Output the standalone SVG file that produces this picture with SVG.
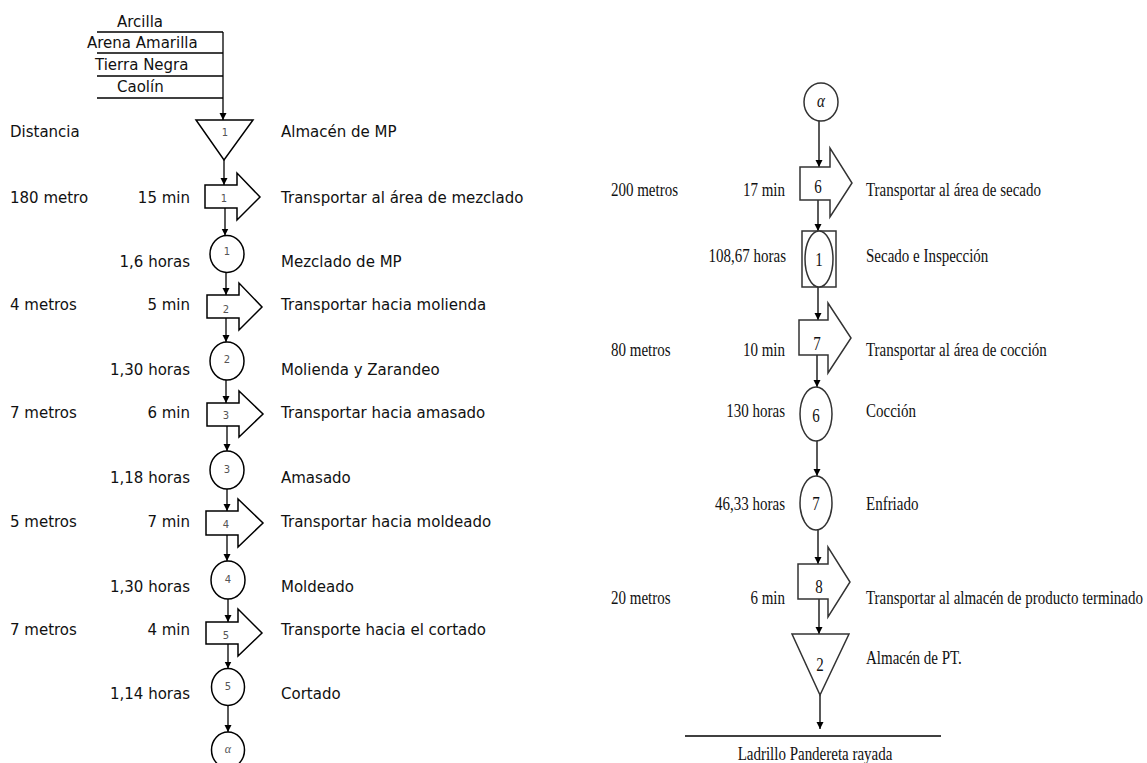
<svg xmlns="http://www.w3.org/2000/svg" width="1147" height="763" viewBox="0 0 1147 763">
<style>
.l{font-family:"DejaVu Sans","Liberation Sans",sans-serif;font-size:15px;fill:#111}
.le{font-family:"DejaVu Sans","Liberation Sans",sans-serif;font-size:15px;fill:#111;text-anchor:end}
.n{font-family:"DejaVu Sans",sans-serif;font-size:10px;fill:#555;text-anchor:middle}
.r{font-family:"Liberation Serif","Times New Roman",serif;font-size:15px;fill:#111}
.re{font-family:"Liberation Serif","Times New Roman",serif;font-size:15px;fill:#111;text-anchor:end}
.rm{font-family:"Liberation Serif","Times New Roman",serif;font-size:15px;fill:#111;text-anchor:middle}
.ga{font-family:"Liberation Serif",serif;font-style:italic;font-size:12px;fill:#555;text-anchor:middle}
.s{fill:#fff;stroke:#000;stroke-width:1.5}
.rs{fill:#fff;stroke:#333;stroke-width:1.5}
.c{stroke:#000;stroke-width:1.3;fill:none}
</style>
<defs>
<marker id="ah" markerWidth="8" markerHeight="8" refX="7" refY="4" orient="auto" markerUnits="userSpaceOnUse"><path d="M0,0.5 L7,4 L0,7.5 z" fill="#000"/></marker>
</defs>

<g id="connectors">
<line class="c" x1="97" y1="32" x2="223" y2="32"/>
<line class="c" x1="97" y1="53" x2="223" y2="53"/>
<line class="c" x1="97" y1="76" x2="223" y2="76"/>
<line class="c" x1="97" y1="98" x2="223" y2="98"/>
<line class="c" x1="223" y1="32" x2="223" y2="120" marker-end="url(#ah)"/>
<line class="c" x1="224" y1="160" x2="224" y2="185" marker-end="url(#ah)"/>
<line class="c" x1="225" y1="208" x2="225" y2="235.5" marker-end="url(#ah)"/>
<line class="c" x1="226" y1="272.5" x2="226" y2="295" marker-end="url(#ah)"/>
<line class="c" x1="226" y1="318" x2="226" y2="342" marker-end="url(#ah)"/>
<line class="c" x1="226" y1="380" x2="226" y2="403" marker-end="url(#ah)"/>
<line class="c" x1="227" y1="426" x2="227" y2="451" marker-end="url(#ah)"/>
<line class="c" x1="227" y1="489" x2="227" y2="511" marker-end="url(#ah)"/>
<line class="c" x1="227" y1="535" x2="227" y2="561" marker-end="url(#ah)"/>
<line class="c" x1="228" y1="599" x2="228" y2="622" marker-end="url(#ah)"/>
<line class="c" x1="228" y1="644" x2="228" y2="668.5" marker-end="url(#ah)"/>
<line class="c" x1="228" y1="705.5" x2="228" y2="732" marker-end="url(#ah)"/>

<line class="c" x1="819" y1="121" x2="819" y2="167" marker-end="url(#ah)"/>
<line class="c" x1="818" y1="200" x2="818" y2="231" marker-end="url(#ah)"/>
<line class="c" x1="818" y1="287" x2="818" y2="320" marker-end="url(#ah)"/>
<line class="c" x1="817" y1="355" x2="817" y2="387" marker-end="url(#ah)"/>
<line class="c" x1="817" y1="441" x2="817" y2="476" marker-end="url(#ah)"/>
<line class="c" x1="818" y1="530" x2="818" y2="564" marker-end="url(#ah)"/>
<line class="c" x1="819" y1="599" x2="819" y2="634" marker-end="url(#ah)"/>
<line class="c" x1="820" y1="695" x2="820" y2="729" marker-end="url(#ah)"/>
<line class="c" x1="685" y1="736" x2="941" y2="736"/>
</g>

<g id="inputs">
<text class="l" x="117" y="27">Arcilla</text>
<text class="l" x="87" y="48">Arena Amarilla</text>
<text class="l" x="95" y="70">Tierra Negra</text>
<text class="l" x="117" y="92">Caolín</text>
<text class="l" x="10" y="137">Distancia</text>
</g>

<g id="almacen1">
<polygon class="s" points="196,120 253,120 224,160"/>
<text class="n" x="225" y="136">1</text>
<text class="l" x="281" y="137">Almacén de MP</text>
</g>

<g id="transporte1">
<path class="s" d="M205,185 H237 V173 L260,197 L237,220 V208 H205 Z"/>
<text class="n" x="224" y="202">1</text>
<text class="l" x="10" y="203">180 metro</text>
<text class="le" x="190" y="203">15 min</text>
<text class="l" x="281" y="203">Transportar al área de mezclado</text>
</g>

<g id="operacion1">
<ellipse class="s" cx="227" cy="254" rx="17" ry="18.5"/>
<text class="n" x="227" y="255">1</text>
<text class="le" x="190" y="267">1,6 horas</text>
<text class="l" x="281" y="267">Mezclado de MP</text>
</g>

<g id="transporte2">
<path class="s" d="M207,295 H239 V283 L262,307 L239,330 V318 H207 Z"/>
<text class="n" x="226" y="313">2</text>
<text class="l" x="10" y="310">4 metros</text>
<text class="le" x="190" y="310">5 min</text>
<text class="l" x="281" y="310">Transportar hacia molienda</text>
</g>

<g id="operacion2">
<ellipse class="s" cx="227" cy="361" rx="17" ry="19"/>
<text class="n" x="227" y="363">2</text>
<text class="le" x="190" y="375">1,30 horas</text>
<text class="l" x="281" y="375">Molienda y Zarandeo</text>
</g>

<g id="transporte3">
<path class="s" d="M207,403 H239 V391 L263,414 L239,437 V426 H207 Z"/>
<text class="n" x="226" y="419">3</text>
<text class="l" x="10" y="418">7 metros</text>
<text class="le" x="190" y="418">6 min</text>
<text class="l" x="281" y="418">Transportar hacia amasado</text>
</g>

<g id="operacion3">
<ellipse class="s" cx="227" cy="470" rx="17" ry="19"/>
<text class="n" x="227" y="473">3</text>
<text class="le" x="190" y="483">1,18 horas</text>
<text class="l" x="281" y="483">Amasado</text>
</g>

<g id="transporte4">
<path class="s" d="M206,511 H238 V499 L263,523 L238,547 V535 H206 Z"/>
<text class="n" x="226" y="528">4</text>
<text class="l" x="10" y="527">5 metros</text>
<text class="le" x="190" y="527">7 min</text>
<text class="l" x="281" y="527">Transportar hacia moldeado</text>
</g>

<g id="operacion4">
<ellipse class="s" cx="228" cy="580" rx="17" ry="19"/>
<text class="n" x="228" y="583">4</text>
<text class="le" x="190" y="592">1,30 horas</text>
<text class="l" x="281" y="592">Moldeado</text>
</g>

<g id="transporte5">
<path class="s" d="M206,622 H238 V609 L262,633 L238,656 V644 H206 Z"/>
<text class="n" x="226" y="639">5</text>
<text class="l" x="10" y="635">7 metros</text>
<text class="le" x="190" y="635">4 min</text>
<text class="l" x="281" y="635">Transporte hacia el cortado</text>
</g>

<g id="operacion5">
<ellipse class="s" cx="228" cy="687" rx="16.5" ry="18.5"/>
<text class="n" x="228" y="690">5</text>
<text class="le" x="190" y="699">1,14 horas</text>
<text class="l" x="281" y="699">Cortado</text>
</g>

<g id="conector-alfa-1">
<ellipse class="s" cx="228" cy="750" rx="16.5" ry="18"/>
<text class="ga" x="228" y="753">α</text>
</g>

<g id="conector-alfa-2">
<ellipse class="rs" cx="821" cy="102" rx="17" ry="19"/>
<text class="rm" transform="translate(821,107) scale(1,1.3)" font-style="italic">α</text>
</g>

<g id="transporte6">
<path class="rs" d="M800,167 H830 V148 L852,183 L830,217 V200 H800 Z"/>
<text class="rm" transform="translate(818,193) scale(1,1.3)">6</text>
<text class="r" transform="translate(611,196) scale(1,1.3)">200 metros</text>
<text class="re" transform="translate(785,196) scale(1,1.3)">17 min</text>
<text class="r" transform="translate(866,196) scale(1,1.3)">Transportar al área de secado</text>
</g>

<g id="secado-inspeccion">
<rect class="rs" x="802" y="231" width="34" height="56"/>
<ellipse class="rs" cx="819" cy="259" rx="14" ry="28"/>
<text class="rm" transform="translate(819,266) scale(1,1.3)">1</text>
<text class="re" transform="translate(786,262) scale(1,1.3)">108,67 horas</text>
<text class="r" transform="translate(866,262) scale(1,1.3)">Secado e Inspección</text>
</g>

<g id="transporte7">
<path class="rs" d="M799,320 H828 V303 L851,338 L828,373 V355 H799 Z"/>
<text class="rm" transform="translate(817,350) scale(1,1.3)">7</text>
<text class="r" transform="translate(611,356) scale(1,1.3)">80 metros</text>
<text class="re" transform="translate(785,356) scale(1,1.3)">10 min</text>
<text class="r" transform="translate(866,356) scale(1,1.3)">Transportar al área de cocción</text>
</g>

<g id="operacion6">
<ellipse class="rs" cx="816" cy="414" rx="16" ry="27"/>
<text class="rm" transform="translate(816,422) scale(1,1.3)">6</text>
<text class="re" transform="translate(785,417) scale(1,1.3)">130 horas</text>
<text class="r" transform="translate(866,417) scale(1,1.3)">Cocción</text>
</g>

<g id="operacion7">
<ellipse class="rs" cx="816" cy="503" rx="16" ry="27"/>
<text class="rm" transform="translate(816,510) scale(1,1.3)">7</text>
<text class="re" transform="translate(785,510) scale(1,1.3)">46,33 horas</text>
<text class="r" transform="translate(866,510) scale(1,1.3)">Enfriado</text>
</g>

<g id="transporte8">
<path class="rs" d="M798,564 H828 V547 L850,582 L828,617 V599 H798 Z"/>
<text class="rm" transform="translate(819,593) scale(1,1.3)">8</text>
<text class="r" transform="translate(611,604) scale(1,1.3)">20 metros</text>
<text class="re" transform="translate(785,604) scale(1,1.3)">6 min</text>
<text class="r" transform="translate(866,604) scale(1,1.3)">Transportar al almacén de producto terminado</text>
</g>

<g id="almacen2">
<polygon class="rs" points="792,634 849,634 820,695"/>
<text class="rm" transform="translate(820,671) scale(1,1.3)">2</text>
<text class="r" transform="translate(866,664) scale(1,1.3)">Almacén de PT.</text>
</g>

<g id="producto">
<text class="rm" transform="translate(815,760) scale(1,1.3)">Ladrillo Pandereta rayada</text>
</g>
</svg>
